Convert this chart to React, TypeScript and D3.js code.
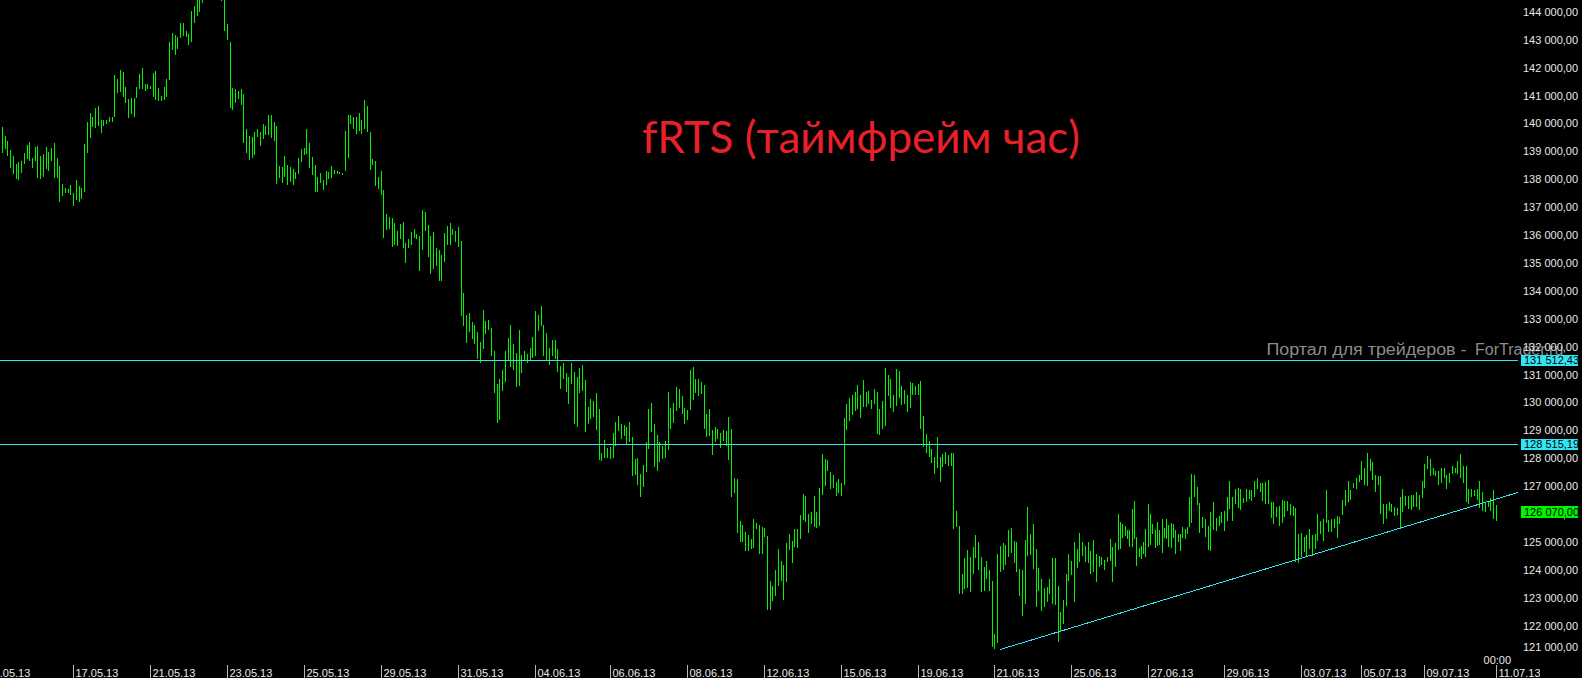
import React from 'react';
import * as d3 from 'd3';

const highs = [
139860,139540,139360,139040,138820,138540,138610,138650,138930,139220,139320,138750,139150,139180,138820,138900,139150,138970,139110,139290,
138750,138470,137820,137680,137650,137790,137500,137970,137750,137680,139250,140040,140390,140220,140570,140640,140140,140110,140140,140220,
140220,141750,141610,141930,141860,141320,140890,140930,140930,141320,141790,142000,141430,141430,141360,141820,141890,141290,140970,141320,
141610,142930,143250,143180,143110,143610,143610,143320,143220,144040,144210,144500,144600,145000,145200,145400,145300,145100,145500,145200,
144900,144700,143570,142930,141290,141250,141180,141220,141070,139790,139540,139500,139680,139820,139680,139970,139900,140320,140320,140040,
139900,138470,138430,138820,138500,138430,138360,138250,138750,139070,139110,139790,139290,138790,138500,138070,138220,137970,138290,138250,
138470,138320,138290,138250,138220,139720,140290,140320,140220,140220,140390,140140,140860,140610,139680,138720,138650,138070,
138290,137610,136750,136640,136610,136430,136140,136390,136470,135720,135860,136110,136220,136040,135970,136890,136820,136360,135970,136110,
135540,135470,135290,136070,136320,136430,136220,136140,136290,135790,133930,133150,133220,132900,132790,132540,132180,133320,132930,132970,
132680,131860,130680,130860,131150,131860,132320,132790,132110,131790,132610,131720,131830,131750,131970,132360,133290,133150,133470,132790,
132500,131970,132250,132250,131900,131320,131400,131070,130930,131400,131110,130930,131220,131360,130790,129830,130110,130040,130330,129750,
128180,128650,128360,128400,128900,129290,129500,129220,129180,129110,129290,128750,127970,128000,127430,127750,128580,129750,130000,129220,
128830,128580,128430,128610,130360,129790,129970,130540,130470,130220,129790,129720,131150,131290,130860,130860,130720,130610,129580,129750,
129000,129110,129040,128900,129000,128970,129470,129040,127290,127260,125760,125610,125360,125260,
125120,125830,125690,125620,125550,125510,125230,123590,123440,123980,124760,124330,124190,124980,125300,125050,125480,125480,125980,126730,
126660,126010,126080,126660,126080,126940,128150,127980,127940,127510,127410,127160,127260,127120,129440,129940,130150,130260,130370,130620,
130260,130800,130370,130400,130080,130470,130370,129760,130050,131220,130980,130830,130260,131190,131120,130580,130440,130260,130730,130690,
130580,130650,130760,129510,128870,128620,128330,128050,128760,128050,128150,128230,128120,128190,128190,126120,125580,123870,124440,124730,
124480,124830,125260,125010,124480,124120,124330,123980,123620,121690,124580,124870,124980,124900,125440,125510,125050,125010,124050,123980,
125080,126260,125300,125660,124760,124080,123690,123340,123370,123660,124410,124410,123410,122480,122910,123870,124580,124330,125010,124760,
125330,125010,124870,125010,124690,125080,124580,124510,124480,124370,124480,125120,124830,124980,126010,
125710,125640,125560,125420,125420,126170,126460,125170,124780,124850,124990,125460,126350,125990,125640,125420,125710,125420,125810,125490,
125810,125600,125670,125640,125420,125280,125280,125530,125460,125530,126600,127420,127390,126960,126390,125890,125810,125560,126060,126420,
125850,125920,126060,126100,126600,127170,126600,126890,126920,126890,126560,126890,126850,126850,127170,127280,127100,127100,127140,127210,
126420,126420,126240,126280,126490,126460,126460,126350,126280,126210,125280,125310,125170,125240,125460,125240,125280,125990,125740,125810,
126850,125780,125810,125810,125920,125890,126490,126850,127170,126850,127100,127310,127390,127890,127670,128190,127990,127850,127390,127350,
127350,126350,126350,126420,126350,126240,126210,126600,126890,126640,126640,126670,126670,126810,126670,127170,127780,128100,127990,127670,
127560,127560,127640,127640,127390,127490,127710,127640,127920,128140,127710,127710,126890,126890,126850,126890,127170,126780,126390,126460,
126560,126850,126310
];

const lows = [
138940,139090,138820,138410,138190,138010,137970,138220,138540,138720,138650,138410,138650,138050,138010,138070,138370,138290,138650,138050,
138050,137190,137410,137510,137500,137430,137050,137270,137190,137300,137550,138940,139480,139860,139840,139910,139660,139910,140000,140070,
140070,140230,141080,141120,140940,140730,140190,140340,140230,140900,141230,141230,141160,141230,141230,140940,140840,140800,140800,140840,
140940,141550,142620,142440,142660,143080,143120,143100,142830,142910,143620,143870,143980,144330,144500,144700,144600,144450,144800,144500,
144400,143320,143010,140570,140470,140720,140890,140680,139300,138930,138680,138750,138860,139500,139180,139430,139570,139570,139470,139360,
137820,138040,137860,138070,137790,137900,137790,138000,138180,138610,138860,138900,138400,138150,137540,137540,137860,137610,137790,138000,
138040,138180,138180,138180,138150,138290,138750,139970,139790,139610,139720,139640,139790,139680,138320,138500,137750,137650,
137430,135890,136180,136220,135570,135640,135610,135860,135540,135000,135540,135640,135890,135860,134720,135470,136140,135220,134610,134790,
134890,134360,134360,135040,135640,135640,136000,135750,135570,133110,132750,132150,132540,132290,132110,131570,131400,131900,132470,132610,
131680,130330,129250,129360,130430,130720,131500,131290,131180,130540,130580,131040,131470,131400,131540,131610,131680,132570,132750,131680,
131500,131360,131650,131570,131110,130500,130860,130360,129930,130680,129220,129110,130330,130400,128930,129220,129400,129470,129000,127930,
127900,128000,128000,127970,128000,128430,128970,128680,128790,128470,128580,127360,127400,127040,126610,126970,127500,128330,128930,127680,
127540,127860,127970,128000,128290,129040,129250,129680,129790,129580,129220,129360,129720,130080,130330,130250,130290,129040,128750,128790,
128110,128580,128680,128360,128610,128430,127930,126610,126760,125330,125000,125000,124680,124680,
124760,124800,125480,124580,124580,125190,122550,122550,122870,123050,123410,123590,122910,123550,124730,124260,124830,124800,125120,125800,
125730,125330,125660,125550,125510,125580,126690,127010,127550,126910,126940,126660,126760,126660,127050,129010,129330,129550,129690,129760,
129440,129830,129830,129940,129760,129940,128870,128830,129050,129150,130230,129800,129650,129870,130150,129900,129940,129650,129800,130260,
130260,130260,129050,128400,128190,128050,127830,127440,127650,127160,127690,127800,127730,127730,125480,125550,123120,123120,123300,123340,
123190,123840,124440,123980,123190,123260,123690,123230,121240,121160,121380,123910,124010,124190,124480,124620,124260,123910,123050,122340,
122760,124510,124550,124050,122660,123230,122510,122660,122840,123120,122760,122730,121410,121800,122050,122690,123590,123800,122840,124080,
124300,124510,124300,124230,123870,123940,123550,124120,124190,123980,124300,124330,123550,124120,124730,
124740,125140,125210,125100,124810,124810,125100,124150,124460,124390,124570,124460,124810,124890,125280,124780,124850,124890,124600,125140,
125100,124810,124780,125140,124570,124990,124670,125140,125100,125280,125530,125670,126600,126310,125310,125490,125170,124710,124670,125420,
125390,125560,125670,125390,125740,126170,125740,126350,126210,126130,126390,126420,126530,126460,126600,126890,126780,126460,126350,126350,
125850,125640,125890,125560,125670,125890,126100,125960,125920,124280,124240,124460,124640,124490,124740,124490,124740,125030,125280,125030,
125670,125350,125350,125490,125140,125640,125960,126280,126420,126490,126920,126890,127140,127240,127030,126990,127530,127240,126780,127060,
125990,125640,125810,126100,126060,125920,125960,125490,126060,126280,126170,126130,126240,126240,126130,126560,126920,127600,127350,127390,
127350,127060,127100,127310,126890,127100,127420,127460,127420,127280,127100,126420,126350,126600,126640,126490,126210,126100,126060,126240,
126100,125810,125740
];

const dateLabels = ['15.05.13','17.05.13','21.05.13','23.05.13','25.05.13','29.05.13','31.05.13','04.06.13','06.06.13','08.06.13',
  '12.06.13','15.06.13','19.06.13','21.06.13','25.06.13','27.06.13','29.06.13','03.07.13','05.07.13','09.07.13','11.07.13'];
const dateLabelBars = [-6, 26, 54, 82, 110, 138, 166, 194, 221, 249, 277, 305, 333, 361, 389, 419, 450, 478, 500, 523, 549];

const priceTicks = [121000,122000,123000,124000,125000,126000,127000,128000,129000,130000,131000,132000,
  133000,134000,135000,136000,137000,138000,139000,140000,141000,142000,143000,144000];
const levelLines = [131512.43, 128515.19];
const lastPrice = 126070;
const trendBars = [363, 557];
const trendPrices = [121150, 126780];
const titleText = 'fRTS (таймфрейм час)';
const watermarkA = 'Портал для трейдеров -';
const watermarkB = 'ForTrader.ru';
const lastTimeLabel = '00:00';

const W = 1582;
const H = 678;
const PLOT_RIGHT = 1518;
const BAR_COLOR = '#00f400';
const LINE_COLOR = '#30e6f6';
const TEXT_COLOR = '#e8e8e8';
const FONT = '"Liberation Sans", Arial, sans-serif';

const locale = d3.formatLocale({ decimal: ',', thousands: ' ', grouping: [3], currency: ['', ''] });
const fmt = locale.format(',.2f');

export default function App() {
  const n = highs.length;
  const xScale = d3.scaleLinear()
    .domain([0, 137, 271, 406, 439, n - 1])
    .range([2.3, 378.3, 748.3, 1118.3, 1194.3, 1496.3]);
  const yScale = d3.scaleLinear().domain([121000, 144000]).range([653.6, 11.9]);

  const px = (i: number) => Math.floor(xScale(i)) + 0.5;

  const trendLine = d3.line<number>()
    .x((_, k) => xScale(trendBars[k]))
    .y((p) => yScale(p));

  return (
    <svg width={W} height={H} style={{ position: 'fixed', left: 0, top: 0, display: 'block', background: '#000' }}>
      <defs>
        <clipPath id="plot"><rect x={0} y={0} width={PLOT_RIGHT} height={662} /></clipPath>
        <clipPath id="dates"><rect x={0} y={660} width={1540} height={20} /></clipPath>
      </defs>
      <rect x={0} y={0} width={W} height={H} fill="#000" />

      <g clipPath="url(#plot)" shapeRendering="crispEdges">
        {highs.map((h, i) => {
          const y1 = Math.round(yScale(h));
          const y2 = Math.max(Math.round(yScale(lows[i])), y1 + 1);
          return <line key={i} x1={px(i)} x2={px(i)} y1={y1} y2={y2} stroke={BAR_COLOR} strokeWidth={1} />;
        })}
        {levelLines.map((v) => (
          <line key={v} x1={0} x2={PLOT_RIGHT} y1={Math.round(yScale(v)) + 0.5} y2={Math.round(yScale(v)) + 0.5} stroke={LINE_COLOR} strokeWidth={1} />
        ))}
        <path d={trendLine(trendPrices) || ''} stroke={LINE_COLOR} strokeWidth={1} fill="none" />
      </g>

      <text x={642} y={153} fill="#e8202a" fontFamily="Lato, 'Open Sans', sans-serif" fontSize={44}
        textLength={438} lengthAdjust="spacingAndGlyphs">{titleText}</text>

      <text x={1266.5} y={355} fill="#8c8c8c" fontFamily={FONT} fontSize={16}
        textLength={200} lengthAdjust="spacingAndGlyphs">{watermarkA}</text>
      <text x={1475} y={355} fill="#8c8c8c" fontFamily={FONT} fontSize={16}>{watermarkB}</text>

      {priceTicks.map((v) => (
        <text key={v} x={1523} y={Math.min(yScale(v), 647)} dy="0.36em" fill={TEXT_COLOR}
          fontFamily={FONT} fontSize={11}>{fmt(v)}</text>
      ))}

      {levelLines.map((v) => {
        const y = yScale(v);
        return (
          <g key={'b' + v}>
            <rect x={1521} y={Math.round(y) - 5} width={57} height={11} fill={LINE_COLOR} />
            <text x={1524} y={y} dy="0.36em" fill="#000" fontFamily={FONT} fontSize={11}>{fmt(v)}</text>
          </g>
        );
      })}
      <g>
        <rect x={1521} y={Math.round(yScale(lastPrice)) - 6} width={57} height={12} fill={BAR_COLOR} />
        <text x={1524} y={yScale(lastPrice)} dy="0.36em" fill="#000" fontFamily={FONT} fontSize={11}>{fmt(lastPrice)}</text>
      </g>

      <text x={xScale(n - 1) + 1} y={664} textAnchor="middle" fill={TEXT_COLOR} fontFamily={FONT} fontSize={11}>{lastTimeLabel}</text>

      <g clipPath="url(#dates)">
        {dateLabels.map((d, k) => {
          const x = px(dateLabelBars[k]);
          return (
            <g key={d}>
              <line x1={x} x2={x} y1={665} y2={678} stroke="#b8b8b8" strokeWidth={1} shapeRendering="crispEdges" />
              <text x={x + 2} y={676.5} fill={TEXT_COLOR} fontFamily={FONT} fontSize={11}>{d}</text>
            </g>
          );
        })}
      </g>
    </svg>
  );
}
